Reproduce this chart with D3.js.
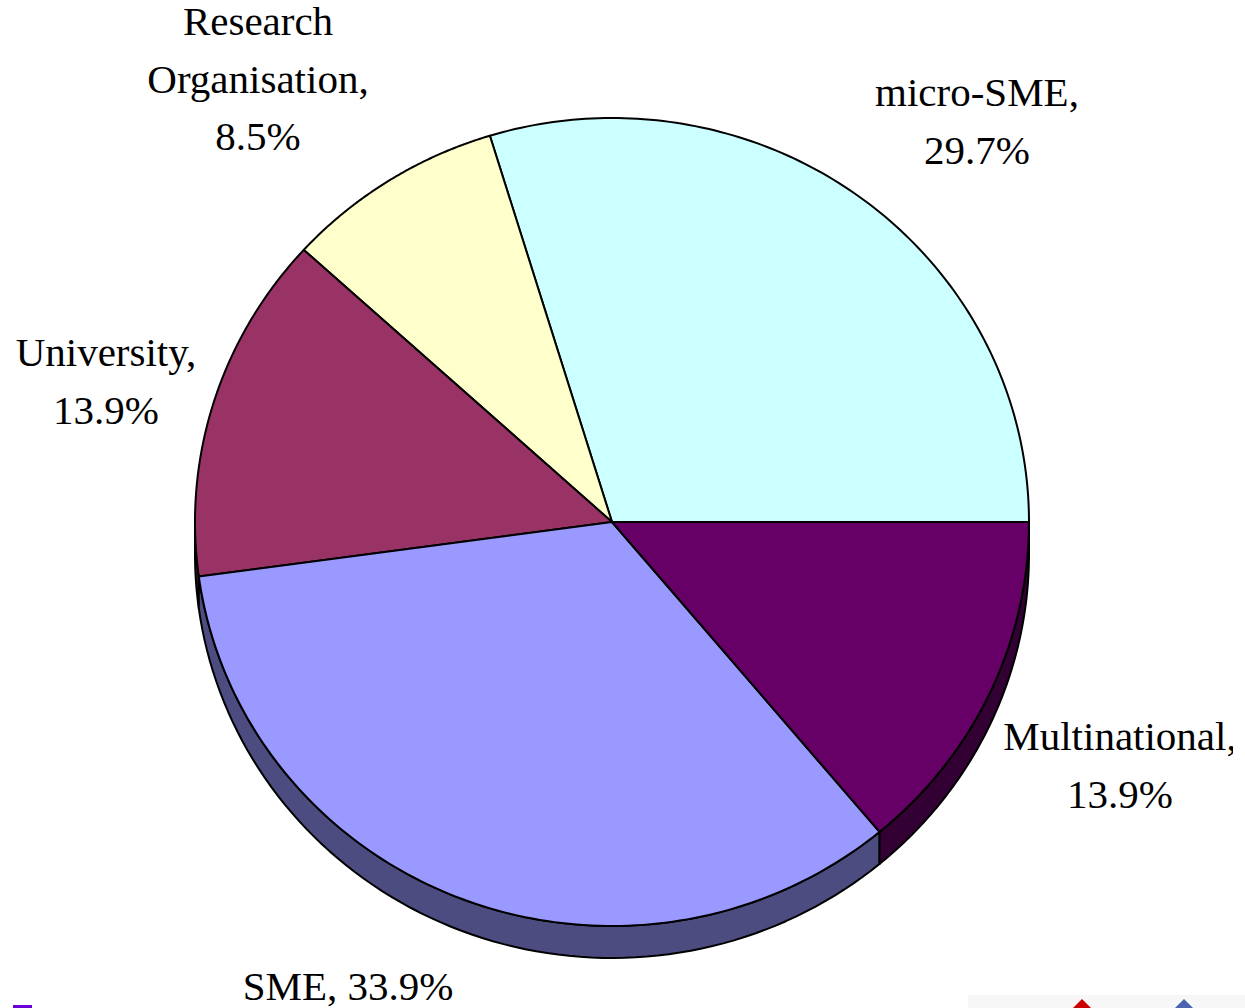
<!DOCTYPE html>
<html><head><meta charset="utf-8">
<script src="https://cdn.jsdelivr.net/npm/d3@7"></script>
<style>html,body{margin:0;padding:0;background:#fff;}svg{display:block;}</style>
</head><body>
<svg id="chart" width="1245" height="1008"></svg>
<script>
const categories = ["micro-SME", "Research Organisation", "University", "SME", "Multinational"];
const values = [29.7, 8.5, 13.9, 33.9, 13.9];
const labelLines = [["micro-SME,", "29.7%"], ["Research", "Organisation,", "8.5%"], ["University,", "13.9%"], ["SME, 33.9%"], ["Multinational,", "13.9%"]];
const topColors = ["#CCFFFF", "#FFFFCC", "#993366", "#9999FF", "#660066"];
const sideColors = ["#667F7F", "#7F7F66", "#4D1A33", "#4C4C80", "#330033"];

const W = 1245, H = 1008;
const cx = 612, cy = 522, rx = 417, ry = 404, depth = 32;
const svg = d3.select("#chart");

const pie = d3.pie().sort(null).value(d => d)
  .startAngle(Math.PI / 2).endAngle(Math.PI / 2 - 2 * Math.PI);
const arcs = pie(values);

// ellipse projection scales
const sx = d3.scaleLinear().domain([-1, 1]).range([cx - rx, cx + rx]);
const sy = d3.scaleLinear().domain([-1, 1]).range([cy - ry, cy + ry]);
const pt = (a, dz = 0) => [sx(Math.sin(a)), sy(-Math.cos(a)) + dz];

// side walls (front half: angles in [-3π/2, -π/2])
const walls = svg.append("g");
arcs.forEach((d, i) => {
  const a0 = Math.min(d.startAngle, d.endAngle), a1 = Math.max(d.startAngle, d.endAngle);
  const lo = Math.max(a0, -1.5 * Math.PI), hi = Math.min(a1, -0.5 * Math.PI);
  if (hi <= lo) return;
  const n = 80;
  const angs = d3.range(n + 1).map(k => lo + (hi - lo) * k / n);
  const pts = angs.map(a => pt(a)).concat(angs.slice().reverse().map(a => pt(a, depth)));
  walls.append("path")
    .attr("d", d3.line()(pts) + "Z")
    .attr("fill", sideColors[i])
    .attr("stroke", "#000").attr("stroke-width", 2).attr("stroke-linejoin", "round");
});

// top faces
const faces = svg.append("g");
arcs.forEach((d, i) => {
  const n = 120;
  const angs = d3.range(n + 1).map(k => d.startAngle + (d.endAngle - d.startAngle) * k / n);
  const pts = [[cx, cy]].concat(angs.map(a => pt(a)));
  faces.append("path")
    .attr("d", d3.line()(pts) + "Z")
    .attr("fill", topColors[i])
    .attr("stroke", "#000").attr("stroke-width", 2).attr("stroke-linejoin", "round");
});

// labels
svg.append("clipPath").attr("id", "clipR").append("rect").attr("x", 0).attr("y", 0).attr("width", 1233).attr("height", H);
const labelPos = [
  {x: 977, y: 106}, {x: 258, y: 35}, {x: 106, y: 366}, {x: 348, y: 1000}, {x: 1120, y: 750}
];
const lh = 57.5;
const lg = svg.append("g").attr("clip-path", "url(#clipR)")
  .attr("font-family", "'Liberation Serif', 'Times New Roman', serif")
  .attr("font-size", 41).attr("fill", "#000").attr("text-anchor", "middle");
labelLines.forEach((lines, i) => {
  const t = lg.append("text").attr("x", labelPos[i].x).attr("y", labelPos[i].y);
  lines.forEach((s, k) => {
    t.append("tspan").attr("x", labelPos[i].x).attr("dy", k === 0 ? 0 : lh).text(s);
  });
});

// slide remnants at bottom edge
svg.append("rect").attr("x", 968).attr("y", 995).attr("width", 277).attr("height", 13).attr("fill", "#f7f7f7");
svg.append("path").attr("d", "M1082,999 L1093,1010 L1071,1010 Z").attr("fill", "#cc0000");
svg.append("path").attr("d", "M1184,999 L1195,1010 L1173,1010 Z").attr("fill", "#4a64b0");
svg.append("rect").attr("x", 13).attr("y", 1005).attr("width", 19).attr("height", 3).attr("fill", "#6a00d8");
</script>
</body></html>
